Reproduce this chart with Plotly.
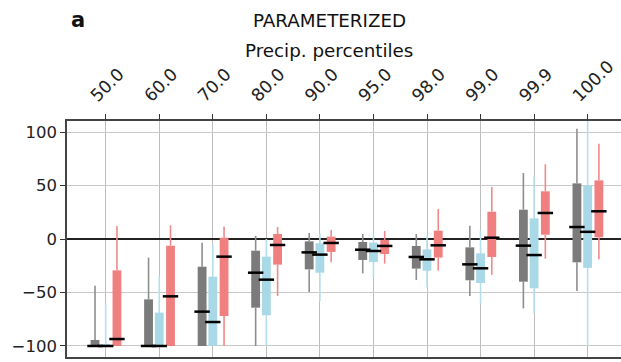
import plotly.graph_objects as go

categories = ["50.0", "60.0", "70.0", "80.0", "90.0", "95.0", "98.0", "99.0", "99.9", "100.0"]

# gray series
gray_low = [-100, -100, -100, -100, -49.5, -32.1, -38.3, -53.3, -64.8, -48.6]
gray_q1 = [-100, -100, -100, -64.2, -28.4, -19.6, -27.7, -38.6, -39.9, -21.8]
gray_med = [-100, -100, -67.9, -31.5, -12.5, -10.0, -16.8, -23.7, -6.2, 11.2]
gray_q3 = [-94.4, -56.4, -25.9, -10.9, -2.2, -2.8, -6.5, -7.8, 27.4, 52.0]
gray_high = [-43.6, -17.4, -3.5, 3.0, 5.6, 4.7, 4.7, 12.5, 61.7, 103.0]

# light blue series
blue_low = [-100, -100, -100, -100, -58, -36, -45, -60, -69.5, -100]
blue_q1 = [-100, -100, -100, -71.3, -31.5, -21.5, -29.6, -41.1, -46.1, -27.0]
blue_med = [-100, -100, -77.6, -38.0, -14.6, -11.2, -19.0, -27.4, -15.0, 6.7]
blue_q3 = [-99, -68.8, -35.2, -16.5, -4.0, -3.4, -9.7, -13.4, 19.3, 50.0]
blue_high = [-60, -35, -5, 0, 5, 4, 3, 8, 58, 112]

# red series
red_low = [-100, -100, -100, -53.3, -21.8, -23.0, -29.6, -33.6, -18.4, -19.0]
red_q1 = [-100, -100, -72.0, -24.0, -12.1, -14.0, -17.4, -16.8, 4.0, 1.6]
red_med = [-93.5, -53.6, -16.5, -5.6, -3.7, -6.5, -5.9, 1.2, 24.3, 25.9]
red_q3 = [-29.3, -6.2, 1.2, 4.7, 2.2, -0.9, 7.8, 25.5, 44.6, 54.8]
red_high = [12.1, 12.8, 11.8, 11.2, 8.4, 7.5, 28.0, 48.6, 69.8, 89.0]

ytick_vals = [-100, -50, 0, 50, 100]
ytick_text = ["\u2212100", "\u221250", "0", "50", "100"]

series = [
    ("gray", -0.2, "#7b7b7b", "#8e8e8e", gray_low, gray_q1, gray_med, gray_q3, gray_high),
    ("blue", 0.0, "#a9d8e6", "#b4dfeb", blue_low, blue_q1, blue_med, blue_q3, blue_high),
    ("red", 0.21, "#f08080", "#f08a8a", red_low, red_q1, red_med, red_q3, red_high),
]

BOX_W = 0.165

fig = go.Figure()
idx = list(range(len(categories)))

for name, off, fc, wc, lo, q1, med, q3, hi in series:
    xs = [i + off for i in idx]
    fig.add_trace(go.Bar(
        x=xs, base=q1, y=[b - a for a, b in zip(q1, q3)], width=BOX_W,
        marker=dict(color=fc, line=dict(width=0)), name=name, showlegend=False,
        hoverinfo="skip",
    ))
    fig.add_trace(go.Scatter(
        x=xs + xs, y=q3 + q1, mode="markers",
        marker=dict(size=1, opacity=0),
        error_y=dict(type="data", symmetric=False,
                     array=[h - b for b, h in zip(q3, hi)] + [0] * len(idx),
                     arrayminus=[0] * len(idx) + [a - l for l, a in zip(lo, q1)],
                     width=0, thickness=1.6, color=wc),
        showlegend=False, hoverinfo="skip",
    ))

for name, off, fc, wc, lo, q1, med, q3, hi in series:
    xs = [i + off for i in idx]
    fig.add_trace(go.Scatter(
        x=xs, y=med, mode="markers",
        marker=dict(symbol="line-ew", size=11, line=dict(width=2.5, color="black")),
        showlegend=False, hoverinfo="skip",
    ))

ytick_font = dict(family="DejaVu Sans", size=16.5, color="#222222")
xtick_font = dict(family="DejaVu Sans", size=17.3, color="#222222")

fig.update_layout(
    width=621, height=362,
    margin=dict(l=67, r=0, t=121, b=5, autoexpand=False),
    paper_bgcolor="white", plot_bgcolor="white",
    barmode="overlay",
    font=dict(family="DejaVu Sans", color="#222222"),
    xaxis=dict(
        range=[-0.723, 9.623], side="top", automargin=False,
        tickvals=idx, ticktext=categories, tickangle=-45,
        tickfont=xtick_font, ticks="outside", ticklen=5, tickwidth=1.2, tickcolor="#333333",
        ticklabelshift=-14, ticklabelstandoff=2,
        showgrid=True, gridcolor="#bdbdbd", gridwidth=1,
        showline=True, linecolor="#444444", linewidth=1.5, mirror=True,
        zeroline=False,
    ),
    yaxis=dict(
        range=[-110.3, 110.3], automargin=False,
        tickvals=ytick_vals, ticktext=ytick_text,
        tickfont=ytick_font, ticks="outside", ticklen=5, tickwidth=1.2, tickcolor="#333333",
        showgrid=True, gridcolor="#c8c8c8", gridwidth=1,
        showline=True, linecolor="#444444", linewidth=1.5, mirror=False,
        zeroline=True, zerolinecolor="#222222", zerolinewidth=1.5,
    ),
)

fig.add_annotation(text="PARAMETERIZED", xref="paper", yref="paper",
                   x=0.473, y=1 + (121 - 20) / 236, xanchor="center", yanchor="middle",
                   showarrow=False, font=dict(family="DejaVu Sans", size=18.3, color="#111111"))
fig.add_annotation(text="Precip. percentiles", xref="paper", yref="paper",
                   x=0.473, y=1 + (121 - 50) / 236, xanchor="center", yanchor="middle",
                   showarrow=False, font=dict(family="DejaVu Sans", size=18.3, color="#111111"))
fig.add_annotation(text="<b>a</b>", xref="paper", yref="paper",
                   x=(69 - 67) / 554, y=1 + (121 - 20) / 236, xanchor="left", yanchor="middle",
                   showarrow=False, font=dict(family="DejaVu Sans", size=21, color="#111111"))

fig.write_html(
    "out.html",
    config={"displayModeBar": False},
    post_script="document.body.style.margin='0';document.body.style.overflow='hidden';",
)
